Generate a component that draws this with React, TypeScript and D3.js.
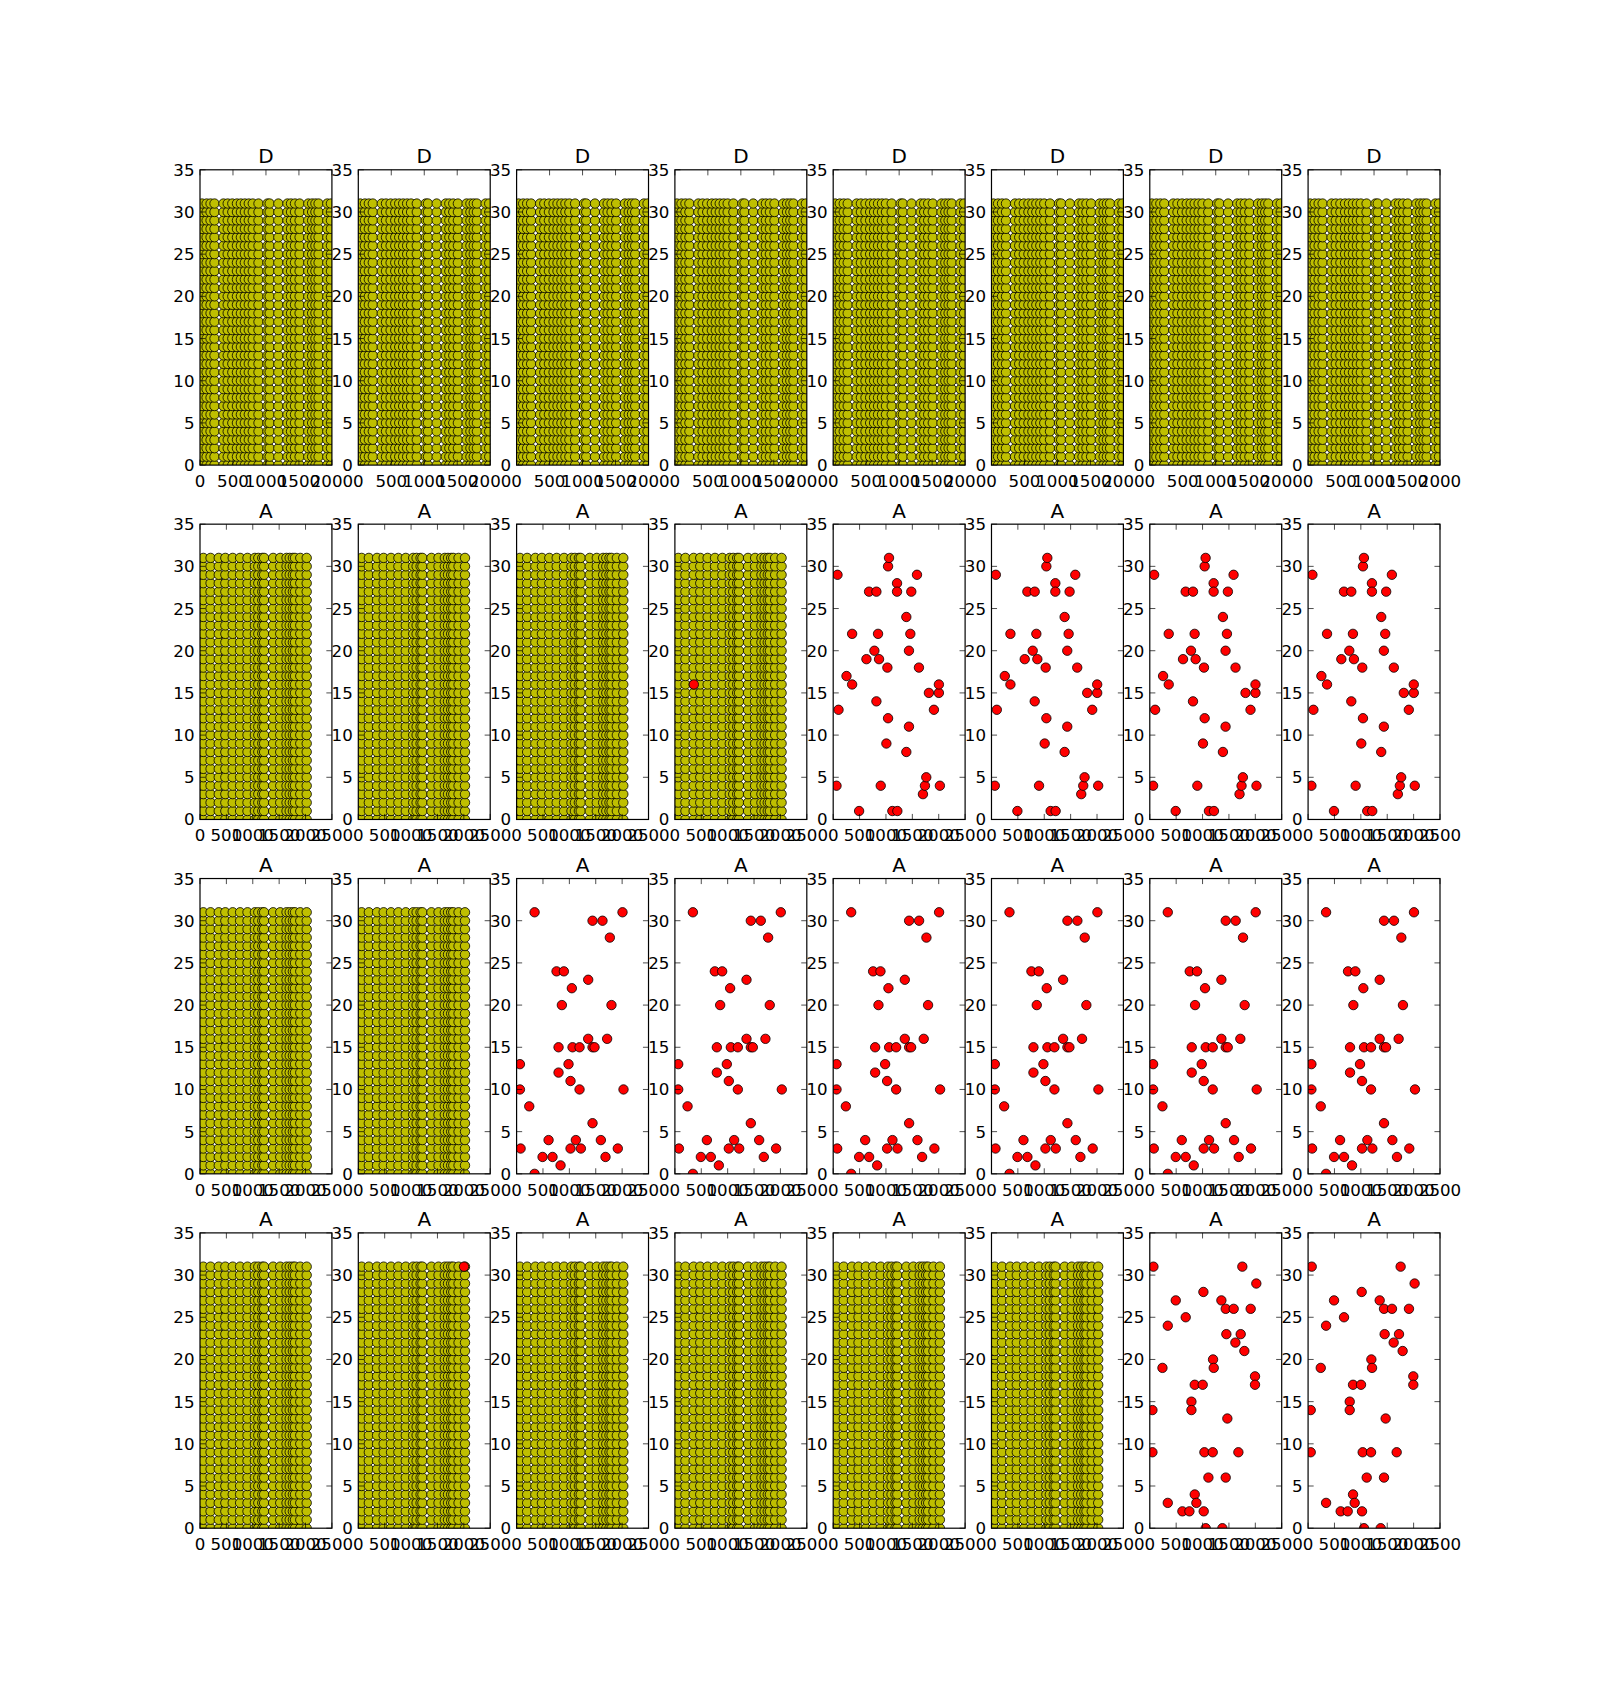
import React from "react";
import * as d3 from "d3";

const W = 1600;
const H = 1698;

const titles = ["D", "A", "A", "A"];
const xTicksD = [0, 500, 1000, 1500, 2000];
const xTicksA = [0, 500, 1000, 1500, 2000, 2500];
const yTicks = [0, 5, 10, 15, 20, 25, 30, 35];

// y levels of the filled grids
const gridRows = [
  0, 1, 2, 3, 4, 5, 6, 7, 8, 9, 10, 11, 12, 13, 14, 15,
  16, 17, 18, 19, 20, 21, 22, 23, 24, 25, 26, 27, 28, 29, 30, 31,
];
// x columns of the grids (row D and rows A)
const gridColsD = [
  30, 100, 160, 220, 356, 420, 490, 560, 620, 680, 740, 800, 887, 1023, 1056,
  1188, 1326, 1380, 1440, 1510, 1642, 1700, 1750, 1798, 1930, 1985,
];
const gridColsA = [
  63, 200, 355, 480, 620, 760, 900, 1040, 1105, 1180, 1215, 1386, 1520, 1640,
  1700, 1760, 1800, 1900, 2022,
];

// red scatter sets [x, y]
const redA: [number, number][] = [
  [82, 29], [101, 13], [63, 4], [252, 17], [359, 16], [359, 22], [491, 1],
  [630, 19], [680, 27], [819, 27], [781, 20], [819, 14], [850, 22], [869, 19],
  [901, 4], [1008, 9], [1027, 18], [1040, 12], [1040, 30], [1058, 31],
  [1121, 1], [1216, 1], [1210, 28], [1210, 27], [1386, 8], [1386, 24],
  [1436, 11], [1436, 20], [1462, 22], [1480, 27], [1588, 29], [1625, 18],
  [1701, 3], [1739, 4], [1764, 5], [1814, 15], [1909, 13], [2003, 15],
  [2003, 16], [2022, 4],
];
const redB: [number, number][] = [
  [63, 13], [63, 10], [76, 3], [240, 8], [341, 31], [341, 0], [492, 2],
  [606, 4], [681, 2], [757, 24], [795, 15], [795, 12], [833, 1], [858, 20],
  [896, 24], [984, 13], [1022, 3], [1022, 11], [1047, 22], [1060, 15],
  [1123, 4], [1193, 15], [1193, 10], [1218, 3], [1357, 23], [1357, 16],
  [1439, 15], [1439, 30], [1439, 6], [1477, 15], [1597, 4], [1628, 30],
  [1685, 2], [1716, 16], [1767, 28], [1798, 20], [1918, 3], [2007, 31],
  [2026, 10],
];
const redC: [number, number][] = [
  [69, 31], [50, 14], [50, 9], [240, 19], [341, 24], [341, 3], [492, 27],
  [618, 2], [681, 25], [751, 2], [789, 15], [789, 14], [852, 17], [852, 4],
  [883, 3], [1003, 17], [1016, 28], [1022, 2], [1035, 9], [1060, 0],
  [1111, 6], [1193, 9], [1199, 20], [1212, 19], [1357, 27], [1376, 0],
  [1439, 26], [1439, 6], [1451, 23], [1470, 13], [1590, 26], [1622, 22],
  [1679, 9], [1723, 23], [1754, 31], [1792, 21], [1912, 26], [1994, 18],
  [1994, 17], [2019, 29],
];
const strayA: [number, number][] = [[359, 16]];
const strayC: [number, number][] = [[2003, 31]];

const panels: string[][] = [
  ["gridD", "gridD", "gridD", "gridD", "gridD", "gridD", "gridD", "gridD"],
  ["grid", "grid", "grid", "grid+A", "redA", "redA", "redA", "redA"],
  ["grid", "grid", "redB", "redB", "redB", "redB", "redB", "redB"],
  ["grid", "grid+C", "grid", "grid", "grid", "grid", "redC", "redC"],
];

// subplot geometry (matplotlib defaults)
const left = 0.125 * W;
const axW = (0.775 * W) / 9.4;
const top = 0.1 * H;
const axH = (0.8 * H) / 4.6;
const tick = 5.56;
const font = "'DejaVu Sans', sans-serif";
const fs = 16.67;
const rad = 4.7;

const Panel = ({ row, col, kind }: { row: number; col: number; kind: string }) => {
  const x0 = left + col * axW * 1.2;
  const y0 = top + row * axH * 1.2;
  const isD = kind === "gridD";
  const xTicks = isD ? xTicksD : xTicksA;
  const x = d3.scaleLinear().domain([0, isD ? 2000 : 2500]).range([x0, x0 + axW]);
  const y = d3.scaleLinear().domain([0, 35]).range([y0 + axH, y0]);
  const id = `clip-${row}-${col}`;

  let grid: [number, number][] = [];
  if (kind.startsWith("grid")) {
    const cols = isD ? gridColsD : gridColsA;
    cols.forEach((cx) => gridRows.forEach((gy) => grid.push([cx, gy])));
  }
  let red: [number, number][] = [];
  if (kind === "redA") red = redA;
  if (kind === "redB") red = redB;
  if (kind === "redC") red = redC;
  if (kind === "grid+A") red = strayA;
  if (kind === "grid+C") red = strayC;

  return (
    <g>
      <clipPath id={id}>
        <rect x={x0} y={y0} width={axW} height={axH} />
      </clipPath>
      <rect x={x0} y={y0} width={axW} height={axH} fill="white" />
      <g clipPath={`url(#${id})`}>
        {grid.map((d, i) => (
          <circle key={"g" + i} cx={x(d[0])} cy={y(d[1])} r={rad}
            fill="#bfbf00" stroke="black" strokeWidth={0.8} />
        ))}
        {red.map((d, i) => (
          <circle key={"r" + i} cx={x(d[0])} cy={y(d[1])} r={rad}
            fill="#ff0000" stroke="black" strokeWidth={0.8} />
        ))}
      </g>
      {xTicks.map((t) => (
        <g key={"x" + t}>
          <line x1={x(t)} x2={x(t)} y1={y0 + axH} y2={y0 + axH - tick} stroke="black" strokeWidth={0.7} />
          <line x1={x(t)} x2={x(t)} y1={y0} y2={y0 + tick} stroke="black" strokeWidth={0.7} />
          <text x={x(t)} y={y0 + axH + 22} textAnchor="middle" fontFamily={font} fontSize={fs}>
            {t}
          </text>
        </g>
      ))}
      {yTicks.map((t) => (
        <g key={"y" + t}>
          <line x1={x0} x2={x0 + tick} y1={y(t)} y2={y(t)} stroke="black" strokeWidth={0.7} />
          <line x1={x0 + axW} x2={x0 + axW - tick} y1={y(t)} y2={y(t)} stroke="black" strokeWidth={0.7} />
          <text x={x0 - 5.5} y={y(t) + 6} textAnchor="end" fontFamily={font} fontSize={fs}>
            {t}
          </text>
        </g>
      ))}
      <rect x={x0} y={y0} width={axW} height={axH} fill="none" stroke="black" strokeWidth={1.2} />
      <text x={x0 + axW / 2} y={y0 - 6.5} textAnchor="middle" fontFamily={font} fontSize={20}>
        {titles[row]}
      </text>
    </g>
  );
};

const App = () => (
  <div style={{ position: "absolute", left: 0, top: 0 }}>
    <svg width={W} height={H} style={{ display: "block", background: "white" }}>
      {panels.map((r, ri) =>
        r.map((kind, ci) => <Panel key={ri + "-" + ci} row={ri} col={ci} kind={kind} />)
      )}
    </svg>
  </div>
);

export default App;
